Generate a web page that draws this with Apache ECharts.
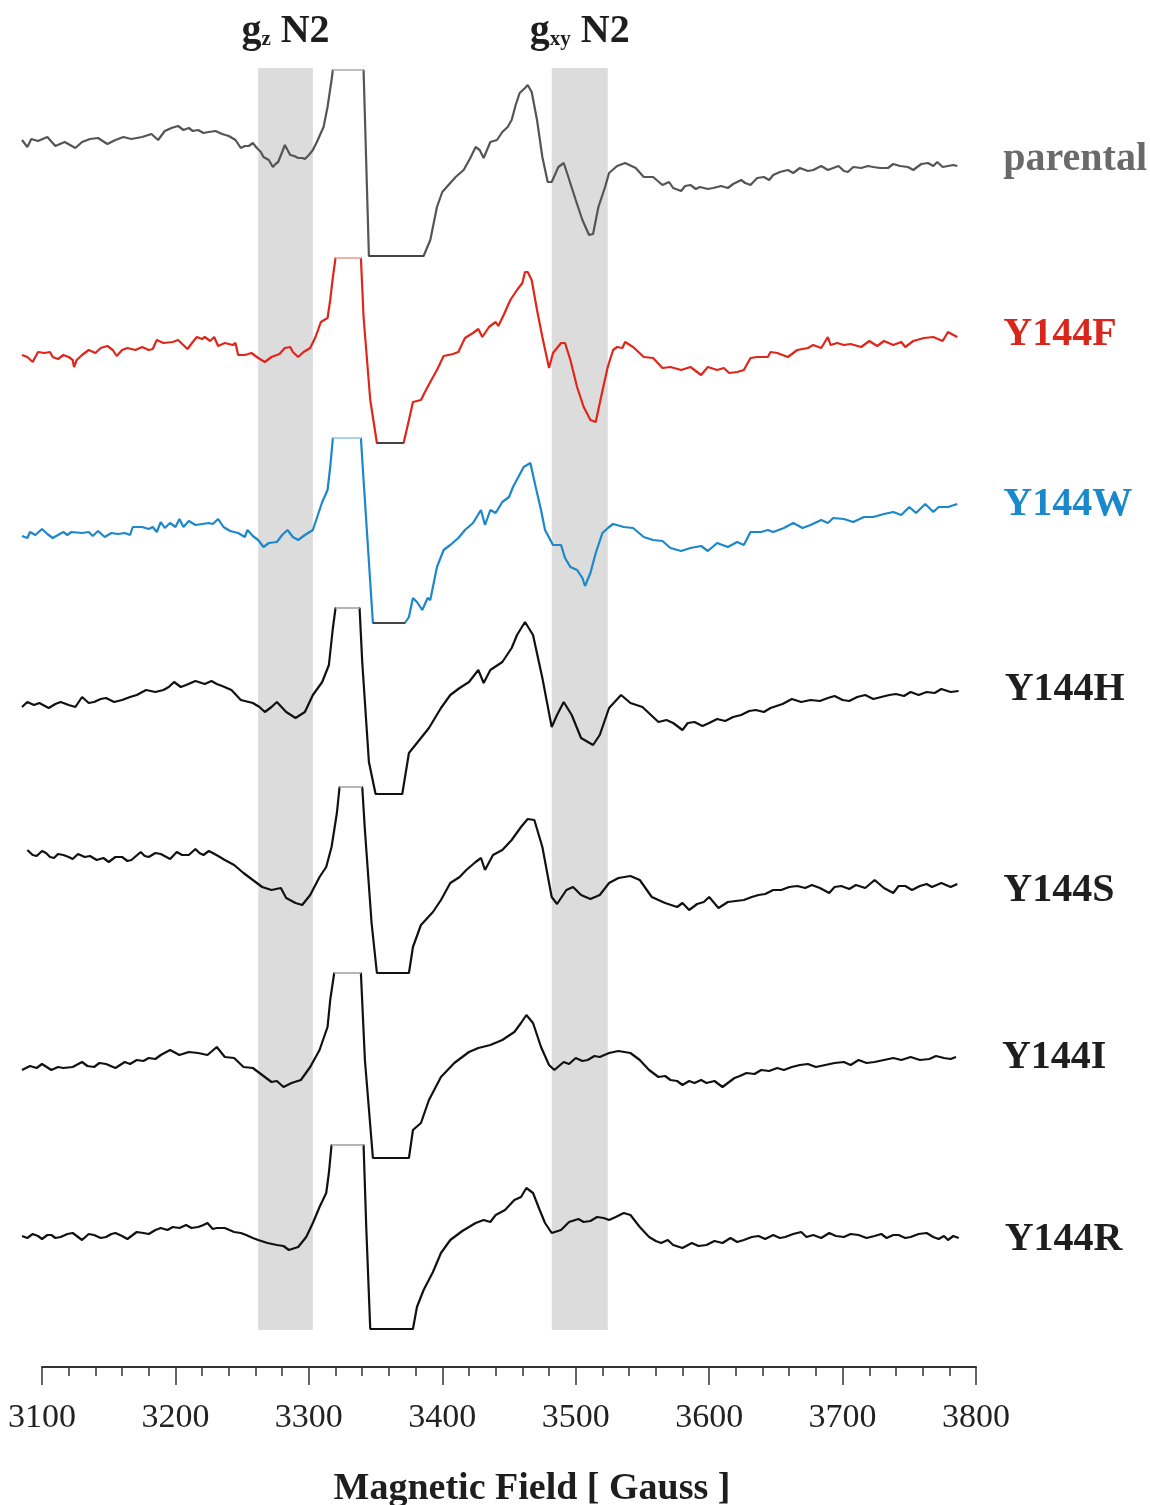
<!DOCTYPE html>
<html>
<head>
<meta charset="utf-8">
<script src="https://cdn.jsdelivr.net/npm/echarts@6/dist/echarts.min.js"></script>
<style>
  html, body { margin: 0; padding: 0; background: #ffffff; }
  #chart { width: 1150px; height: 1505px; }
</style>
</head>
<body>
<div id="chart"></div>
<script>
// EPR derivative spectra, [field (G), signal (a.u., relative to the trace baseline)]
const parental = [[3085,0],[3089,-7],[3092,1],[3097,-1],[3104,3],[3110,-6],[3117,-2],[3125,-8],[3130,-2],[3136,1],[3142,2],[3149,-4],[3155,0],[3161,3],[3167,1],[3175,3],[3182,6],[3187,0],[3192,9],[3197,12],[3202,14],[3206,10],[3210,12],[3213,9],[3217,10],[3221,7],[3225,8],[3230,9],[3235,6],[3240,4],[3245,0],[3249,-8],[3252,-6],[3255,-6],[3258,-3],[3261,-8],[3264,-12],[3266,-17],[3270,-20],[3273,-27],[3275,-24],[3277,-22],[3280,-12],[3282,-5],[3284,-10],[3286,-15],[3289,-16],[3292,-18],[3295,-18],[3297,-19],[3300,-15],[3303,-10],[3306,-2],[3311,13],[3314,33],[3317,60],[3318,70],[3341,70],[3345,-116],[3386,-116],[3391,-100],[3396,-67],[3400,-52],[3404,-46],[3410,-37],[3416,-30],[3421,-18],[3425,-7],[3428,-10],[3431,-18],[3436,-2],[3441,0],[3445,8],[3449,13],[3452,20],[3455,35],[3458,47],[3462,52],[3464,55],[3467,48],[3471,20],[3475,-17],[3479,-42],[3482,-42],[3487,-27],[3491,-23],[3494,-35],[3500,-60],[3505,-80],[3510,-95],[3513,-94],[3517,-67],[3522,-47],[3525,-33],[3531,-26],[3537,-23],[3545,-28],[3551,-37],[3558,-37],[3565,-45],[3570,-42],[3573,-48],[3579,-51],[3582,-46],[3586,-45],[3590,-49],[3593,-47],[3599,-49],[3603,-48],[3609,-46],[3614,-48],[3618,-44],[3624,-40],[3627,-43],[3631,-45],[3636,-38],[3641,-37],[3645,-40],[3648,-35],[3653,-32],[3659,-30],[3663,-33],[3668,-28],[3674,-31],[3678,-30],[3684,-26],[3689,-30],[3693,-28],[3697,-26],[3701,-31],[3704,-32],[3708,-27],[3714,-28],[3719,-26],[3723,-27],[3728,-28],[3734,-28],[3738,-24],[3743,-26],[3749,-27],[3753,-30],[3759,-24],[3764,-23],[3768,-26],[3771,-22],[3775,-27],[3779,-26],[3783,-25],[3786,-26]];

const y144F = [[3085,0],[3089,-2],[3093,-7],[3097,3],[3102,2],[3106,3],[3108,-2],[3112,-4],[3116,0],[3120,-2],[3123,-5],[3124,-12],[3126,-5],[3130,0],[3135,5],[3140,2],[3144,7],[3149,9],[3153,5],[3156,-1],[3160,5],[3164,7],[3170,5],[3175,8],[3180,5],[3183,6],[3186,15],[3191,12],[3198,13],[3202,15],[3209,6],[3213,13],[3216,18],[3220,16],[3222,18],[3226,14],[3229,18],[3232,9],[3237,12],[3243,10],[3245,12],[3247,0],[3252,0],[3257,2],[3262,-3],[3267,-7],[3272,-2],[3278,1],[3282,7],[3286,8],[3288,3],[3292,-2],[3296,3],[3301,7],[3305,18],[3309,33],[3314,37],[3316,55],[3318,78],[3320,97],[3339,97],[3341,38],[3346,-45],[3351,-88],[3371,-88],[3375,-65],[3378,-47],[3384,-45],[3387,-37],[3391,-27],[3396,-15],[3401,-1],[3408,1],[3412,3],[3417,17],[3423,22],[3427,26],[3430,18],[3435,28],[3440,33],[3442,29],[3446,40],[3451,55],[3456,65],[3460,72],[3462,83],[3464,83],[3467,75],[3471,45],[3475,18],[3480,-13],[3483,2],[3489,12],[3492,12],[3496,-5],[3501,-32],[3506,-52],[3511,-65],[3515,-67],[3519,-42],[3524,-12],[3528,5],[3531,8],[3535,7],[3537,13],[3543,8],[3551,-2],[3558,-3],[3565,-13],[3571,-12],[3579,-15],[3586,-12],[3594,-20],[3599,-12],[3606,-15],[3611,-13],[3615,-18],[3621,-17],[3626,-15],[3631,-3],[3636,-2],[3644,-2],[3646,3],[3651,2],[3659,-2],[3666,5],[3674,7],[3678,10],[3684,7],[3689,18],[3691,10],[3696,12],[3701,10],[3706,11],[3714,8],[3720,14],[3726,9],[3731,14],[3738,10],[3744,13],[3747,8],[3753,14],[3761,17],[3768,18],[3775,14],[3779,23],[3783,20],[3786,18]];

const y144W = [[3085,-1],[3089,-3],[3091,3],[3095,0],[3100,6],[3104,1],[3108,-3],[3112,0],[3116,3],[3119,0],[3122,3],[3130,2],[3135,3],[3138,-1],[3142,4],[3147,-2],[3152,2],[3157,1],[3162,2],[3166,0],[3168,8],[3175,8],[3180,6],[3183,8],[3186,3],[3189,13],[3192,7],[3196,12],[3200,8],[3203,16],[3206,8],[3210,14],[3215,10],[3220,11],[3225,12],[3228,11],[3232,16],[3236,8],[3241,4],[3247,2],[3252,-2],[3254,5],[3258,-1],[3262,-5],[3266,-12],[3270,-8],[3276,-7],[3280,0],[3284,5],[3288,-2],[3292,-5],[3297,0],[3303,5],[3306,17],[3310,33],[3314,45],[3316,68],[3318,97],[3339,97],[3341,55],[3348,-88],[3372,-88],[3375,-82],[3378,-63],[3381,-67],[3385,-75],[3389,-63],[3391,-65],[3396,-32],[3401,-15],[3406,-10],[3412,-3],[3417,5],[3423,12],[3429,25],[3432,10],[3436,25],[3440,22],[3445,33],[3450,38],[3453,48],[3457,58],[3461,68],[3466,72],[3470,48],[3474,25],[3477,5],[3483,-10],[3489,-10],[3492,-23],[3496,-32],[3501,-35],[3505,-43],[3507,-51],[3511,-38],[3515,-18],[3520,2],[3525,8],[3528,11],[3536,8],[3543,7],[3551,-2],[3558,-5],[3565,-6],[3571,-13],[3579,-16],[3586,-13],[3594,-11],[3599,-16],[3606,-8],[3614,-12],[3621,-7],[3626,-10],[3631,3],[3639,3],[3644,5],[3648,3],[3656,7],[3663,12],[3670,7],[3676,10],[3684,15],[3689,12],[3693,17],[3701,16],[3708,13],[3716,18],[3723,18],[3731,21],[3738,23],[3744,20],[3750,28],[3755,22],[3762,31],[3768,23],[3772,28],[3779,28],[3786,31]];

const y144H = [[3085,-2],[3089,3],[3094,0],[3098,2],[3105,-3],[3110,1],[3114,3],[3120,0],[3125,-2],[3130,8],[3135,2],[3139,3],[3144,6],[3148,7],[3154,3],[3160,5],[3166,8],[3171,10],[3178,15],[3185,13],[3191,15],[3195,18],[3199,23],[3204,18],[3208,20],[3215,24],[3222,21],[3227,24],[3231,21],[3235,19],[3242,15],[3249,5],[3258,2],[3263,-2],[3267,-7],[3272,-2],[3276,3],[3283,-7],[3290,-13],[3297,-7],[3303,10],[3310,23],[3315,40],[3318,77],[3320,97],[3338,97],[3340,43],[3345,-57],[3350,-89],[3370,-89],[3375,-48],[3381,-38],[3390,-23],[3399,-3],[3406,10],[3413,17],[3420,23],[3427,35],[3431,22],[3436,35],[3445,43],[3452,57],[3456,70],[3462,83],[3468,70],[3475,27],[3482,-22],[3486,-10],[3491,3],[3497,-10],[3504,-33],[3513,-40],[3518,-30],[3525,-3],[3534,10],[3541,2],[3550,-2],[3562,-17],[3568,-15],[3573,-18],[3580,-25],[3584,-18],[3589,-17],[3595,-21],[3600,-18],[3606,-14],[3612,-16],[3618,-12],[3624,-10],[3630,-6],[3635,-5],[3641,-7],[3646,-3],[3655,1],[3662,6],[3669,3],[3676,5],[3683,4],[3689,7],[3694,9],[3700,5],[3705,4],[3711,8],[3717,10],[3723,6],[3729,8],[3735,10],[3740,11],[3746,9],[3751,13],[3757,10],[3763,13],[3769,12],[3774,16],[3781,13],[3787,14]];

const y144S = [[3089,5],[3093,0],[3096,-1],[3100,4],[3103,2],[3106,-2],[3109,-3],[3112,1],[3116,0],[3120,-2],[3123,-4],[3127,1],[3132,-2],[3136,-1],[3141,-5],[3146,-3],[3150,-7],[3155,-2],[3160,-2],[3164,-6],[3167,-5],[3174,3],[3177,-1],[3180,-2],[3185,2],[3189,1],[3196,-4],[3201,3],[3205,0],[3210,0],[3215,6],[3218,2],[3221,0],[3225,4],[3228,2],[3232,-1],[3237,-5],[3244,-10],[3251,-18],[3258,-25],[3265,-32],[3272,-35],[3279,-33],[3283,-43],[3290,-48],[3295,-50],[3301,-40],[3308,-22],[3313,-12],[3317,8],[3321,42],[3323,68],[3340,68],[3342,25],[3347,-68],[3351,-118],[3375,-118],[3378,-92],[3384,-70],[3393,-57],[3399,-45],[3406,-28],[3413,-22],[3418,-15],[3425,-7],[3429,-3],[3432,-15],[3438,0],[3445,5],[3452,15],[3459,28],[3464,36],[3469,35],[3475,8],[3482,-42],[3486,-49],[3493,-35],[3498,-32],[3504,-40],[3511,-44],[3518,-40],[3525,-28],[3532,-23],[3541,-21],[3548,-25],[3557,-42],[3567,-48],[3576,-52],[3580,-48],[3585,-55],[3591,-49],[3596,-47],[3600,-42],[3607,-53],[3614,-47],[3620,-46],[3626,-45],[3632,-42],[3637,-40],[3642,-39],[3648,-35],[3654,-35],[3660,-32],[3666,-31],[3672,-33],[3677,-30],[3683,-33],[3690,-38],[3694,-32],[3699,-31],[3705,-34],[3710,-30],[3717,-33],[3724,-25],[3731,-33],[3738,-38],[3742,-31],[3747,-31],[3752,-35],[3758,-31],[3763,-29],[3767,-32],[3774,-28],[3781,-32],[3786,-29]];

const y144I = [[3085,-2],[3091,2],[3096,0],[3100,4],[3107,-2],[3112,1],[3116,0],[3123,1],[3130,6],[3134,2],[3139,1],[3143,5],[3148,4],[3155,0],[3162,6],[3166,4],[3171,8],[3176,7],[3180,10],[3185,9],[3189,13],[3196,18],[3203,13],[3210,16],[3217,15],[3224,13],[3231,21],[3237,11],[3244,10],[3251,1],[3258,0],[3265,-7],[3272,-14],[3276,-13],[3281,-19],[3287,-15],[3294,-12],[3301,1],[3308,18],[3314,41],[3316,68],[3319,95],[3339,95],[3342,8],[3348,-90],[3375,-90],[3378,-62],[3384,-55],[3390,-32],[3399,-9],[3409,5],[3414,10],[3420,16],[3427,20],[3436,23],[3445,28],[3454,36],[3459,45],[3463,53],[3468,45],[3474,21],[3480,3],[3484,-2],[3491,6],[3495,4],[3500,10],[3505,7],[3509,8],[3514,12],[3518,11],[3525,15],[3532,17],[3541,15],[3548,8],[3555,-2],[3562,-9],[3567,-8],[3571,-12],[3576,-13],[3580,-17],[3585,-13],[3589,-15],[3594,-12],[3598,-15],[3604,-13],[3610,-19],[3619,-10],[3623,-8],[3628,-5],[3634,-6],[3639,-2],[3645,-3],[3651,0],[3656,-2],[3662,1],[3668,3],[3674,4],[3680,1],[3687,3],[3694,5],[3701,6],[3706,3],[3712,8],[3718,5],[3724,6],[3731,8],[3738,10],[3744,8],[3751,11],[3758,8],[3765,9],[3770,12],[3776,10],[3781,9],[3785,11]];

const y144R = [[3085,1],[3089,-1],[3093,3],[3097,1],[3100,-2],[3104,2],[3107,2],[3110,-1],[3114,0],[3119,3],[3123,4],[3127,0],[3130,-3],[3135,3],[3139,2],[3144,-1],[3148,0],[3152,3],[3155,4],[3160,1],[3164,-2],[3168,2],[3171,5],[3176,4],[3180,3],[3185,7],[3189,9],[3194,7],[3198,10],[3203,9],[3208,12],[3212,9],[3217,10],[3221,12],[3224,14],[3228,8],[3231,9],[3237,9],[3244,5],[3249,4],[3253,2],[3258,-1],[3262,-3],[3269,-6],[3276,-8],[3281,-9],[3285,-13],[3292,-10],[3298,0],[3303,14],[3308,30],[3313,44],[3315,64],[3317,92],[3341,92],[3343,10],[3346,-92],[3378,-92],[3381,-70],[3386,-53],[3393,-35],[3399,-16],[3406,-3],[3415,6],[3420,10],[3425,14],[3431,17],[3436,15],[3440,22],[3447,27],[3454,37],[3459,40],[3463,49],[3468,44],[3473,27],[3477,14],[3482,4],[3489,7],[3495,15],[3502,18],[3506,15],[3511,16],[3516,20],[3521,19],[3525,17],[3530,20],[3536,24],[3541,22],[3548,10],[3555,0],[3560,-4],[3564,-6],[3569,-3],[3573,-8],[3580,-11],[3587,-6],[3592,-9],[3598,-8],[3604,-4],[3610,-6],[3616,-1],[3621,-5],[3626,-3],[3632,0],[3637,1],[3642,-2],[3648,2],[3653,-1],[3657,0],[3663,3],[3669,5],[3673,0],[3678,2],[3684,-1],[3690,4],[3695,1],[3701,0],[3706,3],[3712,2],[3718,-1],[3724,1],[3729,3],[3733,-1],[3738,2],[3742,2],[3747,-1],[3751,0],[3757,3],[3763,4],[3768,0],[3772,-2],[3776,1],[3779,-3],[3783,1],[3787,-1]];

const traceNames   = ['parental', 'Y144F', 'Y144W', 'Y144H', 'Y144S', 'Y144I', 'Y144R'];
const traceData    = [parental, y144F, y144W, y144H, y144S, y144I, y144R];
const traceOffsets = [1227, 1012, 832, 662, 512, 299, 130];

// g-tensor regions of cluster N2 (field ranges, G)
const bandGz  = [3262, 3303];
const bandGxy = [3482, 3524];
const bandSpan = [37, 1299];

// field range covered by the recorded sweeps vs. the labelled scale
const sweepRange = [3085, 3800];
const scaleRange = [3100, 3800];

// styling
const lineColors  = ['#555555', '#e0261b', '#1c87c9', '#111111', '#111111', '#111111', '#111111'];
const topColors   = ['#bdbdbd', '#f2b0aa', '#a9d2ee', '#b5b5b5', '#b5b5b5', '#b5b5b5', '#b5b5b5'];
const labelColors = ['#6a6a6a', '#d9261c', '#1a89cc', '#1e1e1e', '#1e1e1e', '#1e1e1e', '#1e1e1e'];
const labelShift  = [-6, -2, 1, -1, 7, 1, 2];
const serif = '"Liberation Serif", "Times New Roman", Times, serif';

const chart = echarts.init(document.getElementById('chart'), null, { renderer: 'canvas' });

const series = [];

// shaded N2 bands with their headings
series.push({
  type: 'line',
  xAxisIndex: 0,
  yAxisIndex: 0,
  data: [],
  z: 1,
  silent: true,
  markArea: {
    silent: true,
    itemStyle: { color: '#dcdcdc' },
    label: {
      show: true,
      position: 'top',
      distance: 14,
      rich: {
        g: { fontFamily: serif, fontSize: 40, fontWeight: 'bold', color: '#1e1e1e', lineHeight: 44 },
        s: { fontFamily: serif, fontSize: 21, fontWeight: 'bold', color: '#1e1e1e', lineHeight: 44, padding: [16, 10, 0, 0] }
      }
    },
    data: [
      [{ xAxis: bandGz[0], yAxis: bandSpan[0], label: { formatter: '{g|g}{s|z}{g|N2}' } }, { xAxis: bandGz[1], yAxis: bandSpan[1] }],
      [{ xAxis: bandGxy[0], yAxis: bandSpan[0], label: { formatter: '{g|g}{s|xy}{g|N2}' } }, { xAxis: bandGxy[1], yAxis: bandSpan[1] }]
    ]
  }
});

traceData.forEach((trace, i) => {
  const off = traceOffsets[i];
  const pts = trace.map(p => [p[0], off + p[1]]);
  series.push({
    name: traceNames[i],
    type: 'line',
    xAxisIndex: 0,
    yAxisIndex: 0,
    data: pts,
    z: 3,
    clip: false,
    symbol: 'none',
    silent: true,
    lineStyle: { color: lineColors[i], width: 2.2 },
    endLabel: {
      show: true,
      formatter: '{a}',
      distance: 46,
      offset: [0, labelShift[i]],
      color: labelColors[i],
      fontFamily: serif,
      fontSize: 40,
      fontWeight: 'bold'
    }
  });

  // saturated (clipped) segments of the central line
  const amps = trace.map(p => p[1]);
  const hi = Math.max.apply(null, amps);
  const lo = Math.min.apply(null, amps);
  const topSeg = trace.filter(p => p[1] === hi).map(p => [p[0], off + p[1]]);
  const botSeg = trace.filter(p => p[1] === lo).map(p => [p[0], off + p[1]]);
  series.push({
    type: 'line', xAxisIndex: 0, yAxisIndex: 0, data: topSeg, z: 4, clip: false, symbol: 'none', silent: true,
    lineStyle: { color: topColors[i], width: 2 }
  });
  series.push({
    type: 'line', xAxisIndex: 0, yAxisIndex: 0, data: botSeg, z: 4, clip: false, symbol: 'none', silent: true,
    lineStyle: { color: i < 3 ? '#444444' : '#111111', width: 2 }
  });
});

chart.setOption({
  animation: false,
  backgroundColor: '#ffffff',
  grid: [
    { left: 22, right: 174, top: 67, bottom: 138, containLabel: false, outerBoundsMode: 'none' },
    { left: 42, right: 174, top: 67, bottom: 138, containLabel: false, outerBoundsMode: 'none' }
  ],
  xAxis: [
    {
      gridIndex: 0,
      type: 'value',
      min: sweepRange[0],
      max: sweepRange[1],
      show: false,
      splitLine: { show: false }
    },
    {
      gridIndex: 1,
      type: 'value',
      min: scaleRange[0],
      max: scaleRange[1],
      interval: 100,
      name: 'Magnetic Field [ Gauss ]',
      nameLocation: 'middle',
      nameGap: 103,
      nameTextStyle: { fontFamily: serif, fontSize: 38, fontWeight: 'bold', color: '#1e1e1e', padding: [0, 0, 0, 46] },
      axisLine: { show: true, onZero: false, lineStyle: { color: '#333333', width: 2 } },
      axisTick: { show: true, length: 18, lineStyle: { color: '#333333', width: 1.5 } },
      minorTick: { show: true, splitNumber: 5, length: 9, lineStyle: { color: '#333333', width: 1.5 } },
      axisLabel: { fontFamily: serif, fontSize: 34, color: '#222222', margin: 34, formatter: v => String(v) },
      splitLine: { show: false }
    }
  ],
  yAxis: [
    { gridIndex: 0, type: 'value', min: 0, max: 1300, show: false, splitLine: { show: false } },
    { gridIndex: 1, type: 'value', min: 0, max: 1300, show: false, splitLine: { show: false } }
  ],
  series: series
});
</script>
</body>
</html>
